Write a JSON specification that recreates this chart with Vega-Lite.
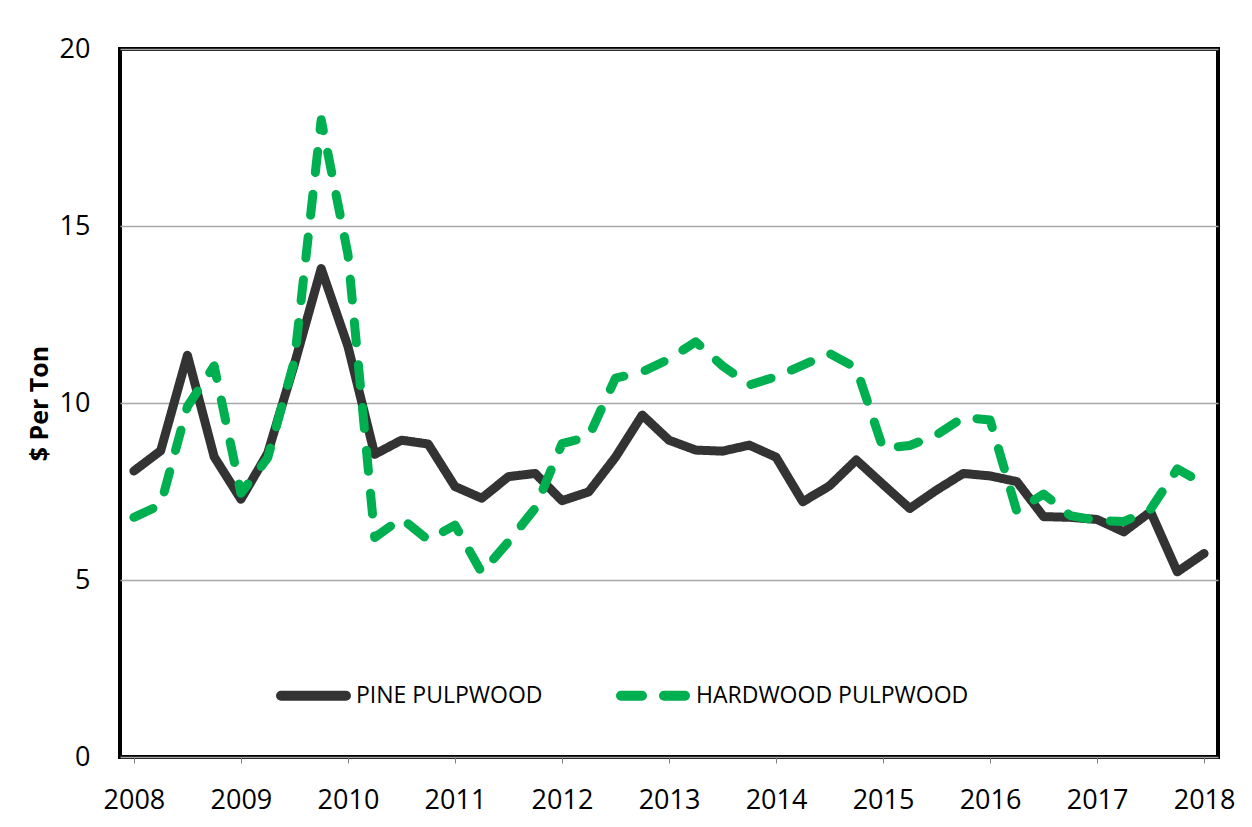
{
  "$schema": "https://vega.github.io/schema/vega-lite/v6.json",
  "width": 1098,
  "height": 708,
  "autosize": "none",
  "padding": {"left": 120, "top": 49, "right": 34, "bottom": 70},
  "background": "white",
  "config": {"view": {"stroke": "black", "strokeWidth": 4}, "font": "Open Sans"},
  "data": {"values": [
    {"year": 2008.00, "series": "PINE PULPWOOD", "price": 8.08},
    {"year": 2008.25, "series": "PINE PULPWOOD", "price": 8.65},
    {"year": 2008.50, "series": "PINE PULPWOOD", "price": 11.35},
    {"year": 2008.75, "series": "PINE PULPWOOD", "price": 8.48},
    {"year": 2009.00, "series": "PINE PULPWOOD", "price": 7.28},
    {"year": 2009.25, "series": "PINE PULPWOOD", "price": 8.58},
    {"year": 2009.50, "series": "PINE PULPWOOD", "price": 11.1},
    {"year": 2009.75, "series": "PINE PULPWOOD", "price": 13.8},
    {"year": 2010.00, "series": "PINE PULPWOOD", "price": 11.6},
    {"year": 2010.25, "series": "PINE PULPWOOD", "price": 8.55},
    {"year": 2010.50, "series": "PINE PULPWOOD", "price": 8.95},
    {"year": 2010.75, "series": "PINE PULPWOOD", "price": 8.84},
    {"year": 2011.00, "series": "PINE PULPWOOD", "price": 7.64},
    {"year": 2011.25, "series": "PINE PULPWOOD", "price": 7.31},
    {"year": 2011.50, "series": "PINE PULPWOOD", "price": 7.92},
    {"year": 2011.75, "series": "PINE PULPWOOD", "price": 8.01},
    {"year": 2012.00, "series": "PINE PULPWOOD", "price": 7.24},
    {"year": 2012.25, "series": "PINE PULPWOOD", "price": 7.49},
    {"year": 2012.50, "series": "PINE PULPWOOD", "price": 8.47},
    {"year": 2012.75, "series": "PINE PULPWOOD", "price": 9.66},
    {"year": 2013.00, "series": "PINE PULPWOOD", "price": 8.95},
    {"year": 2013.25, "series": "PINE PULPWOOD", "price": 8.67},
    {"year": 2013.50, "series": "PINE PULPWOOD", "price": 8.64},
    {"year": 2013.75, "series": "PINE PULPWOOD", "price": 8.81},
    {"year": 2014.00, "series": "PINE PULPWOOD", "price": 8.47},
    {"year": 2014.25, "series": "PINE PULPWOOD", "price": 7.21},
    {"year": 2014.50, "series": "PINE PULPWOOD", "price": 7.66},
    {"year": 2014.75, "series": "PINE PULPWOOD", "price": 8.39},
    {"year": 2015.00, "series": "PINE PULPWOOD", "price": 7.70},
    {"year": 2015.25, "series": "PINE PULPWOOD", "price": 7.02},
    {"year": 2015.50, "series": "PINE PULPWOOD", "price": 7.54},
    {"year": 2015.75, "series": "PINE PULPWOOD", "price": 8.01},
    {"year": 2016.00, "series": "PINE PULPWOOD", "price": 7.94},
    {"year": 2016.25, "series": "PINE PULPWOOD", "price": 7.78},
    {"year": 2016.50, "series": "PINE PULPWOOD", "price": 6.79},
    {"year": 2016.75, "series": "PINE PULPWOOD", "price": 6.77},
    {"year": 2017.00, "series": "PINE PULPWOOD", "price": 6.71},
    {"year": 2017.25, "series": "PINE PULPWOOD", "price": 6.36},
    {"year": 2017.50, "series": "PINE PULPWOOD", "price": 6.93},
    {"year": 2017.75, "series": "PINE PULPWOOD", "price": 5.23},
    {"year": 2018.00, "series": "PINE PULPWOOD", "price": 5.75},
    {"year": 2008.00, "series": "HARDWOOD PULPWOOD", "price": 6.77},
    {"year": 2008.25, "series": "HARDWOOD PULPWOOD", "price": 7.12},
    {"year": 2008.50, "series": "HARDWOOD PULPWOOD", "price": 9.9},
    {"year": 2008.75, "series": "HARDWOOD PULPWOOD", "price": 11.05},
    {"year": 2009.00, "series": "HARDWOOD PULPWOOD", "price": 7.45},
    {"year": 2009.25, "series": "HARDWOOD PULPWOOD", "price": 8.45},
    {"year": 2009.50, "series": "HARDWOOD PULPWOOD", "price": 11.2},
    {"year": 2009.75, "series": "HARDWOOD PULPWOOD", "price": 18.0},
    {"year": 2010.00, "series": "HARDWOOD PULPWOOD", "price": 14.2},
    {"year": 2010.25, "series": "HARDWOOD PULPWOOD", "price": 6.2},
    {"year": 2010.50, "series": "HARDWOOD PULPWOOD", "price": 6.74},
    {"year": 2010.75, "series": "HARDWOOD PULPWOOD", "price": 6.13},
    {"year": 2011.00, "series": "HARDWOOD PULPWOOD", "price": 6.55},
    {"year": 2011.25, "series": "HARDWOOD PULPWOOD", "price": 5.21},
    {"year": 2011.50, "series": "HARDWOOD PULPWOOD", "price": 6.08},
    {"year": 2011.75, "series": "HARDWOOD PULPWOOD", "price": 7.03},
    {"year": 2012.00, "series": "HARDWOOD PULPWOOD", "price": 8.85},
    {"year": 2012.25, "series": "HARDWOOD PULPWOOD", "price": 9.05},
    {"year": 2012.50, "series": "HARDWOOD PULPWOOD", "price": 10.70},
    {"year": 2012.75, "series": "HARDWOOD PULPWOOD", "price": 10.88},
    {"year": 2013.00, "series": "HARDWOOD PULPWOOD", "price": 11.24},
    {"year": 2013.25, "series": "HARDWOOD PULPWOOD", "price": 11.73},
    {"year": 2013.50, "series": "HARDWOOD PULPWOOD", "price": 11.05},
    {"year": 2013.75, "series": "HARDWOOD PULPWOOD", "price": 10.51},
    {"year": 2014.00, "series": "HARDWOOD PULPWOOD", "price": 10.74},
    {"year": 2014.25, "series": "HARDWOOD PULPWOOD", "price": 11.07},
    {"year": 2014.50, "series": "HARDWOOD PULPWOOD", "price": 11.40},
    {"year": 2014.75, "series": "HARDWOOD PULPWOOD", "price": 10.99},
    {"year": 2015.00, "series": "HARDWOOD PULPWOOD", "price": 8.72},
    {"year": 2015.25, "series": "HARDWOOD PULPWOOD", "price": 8.80},
    {"year": 2015.50, "series": "HARDWOOD PULPWOOD", "price": 9.10},
    {"year": 2015.75, "series": "HARDWOOD PULPWOOD", "price": 9.59},
    {"year": 2016.00, "series": "HARDWOOD PULPWOOD", "price": 9.52},
    {"year": 2016.25, "series": "HARDWOOD PULPWOOD", "price": 6.94},
    {"year": 2016.50, "series": "HARDWOOD PULPWOOD", "price": 7.43},
    {"year": 2016.75, "series": "HARDWOOD PULPWOOD", "price": 6.82},
    {"year": 2017.00, "series": "HARDWOOD PULPWOOD", "price": 6.68},
    {"year": 2017.25, "series": "HARDWOOD PULPWOOD", "price": 6.65},
    {"year": 2017.50, "series": "HARDWOOD PULPWOOD", "price": 7.00},
    {"year": 2017.75, "series": "HARDWOOD PULPWOOD", "price": 8.14},
    {"year": 2018.00, "series": "HARDWOOD PULPWOOD", "price": 7.71}
  ]},
  "mark": {"type": "line", "strokeWidth": 9, "strokeCap": "round", "strokeJoin": "round"},
  "encoding": {
    "x": {
      "field": "year", "type": "quantitative",
      "scale": {"domain": [2007.87, 2018.13], "nice": false, "zero": false},
      "axis": {
        "title": null,
        "values": [2008, 2008.25, 2008.5, 2008.75, 2009, 2009.25, 2009.5, 2009.75, 2010, 2010.25, 2010.5, 2010.75, 2011, 2011.25, 2011.5, 2011.75, 2012, 2012.25, 2012.5, 2012.75, 2013, 2013.25, 2013.5, 2013.75, 2014, 2014.25, 2014.5, 2014.75, 2015, 2015.25, 2015.5, 2015.75, 2016, 2016.25, 2016.5, 2016.75, 2017, 2017.25, 2017.5, 2017.75, 2018],
        "format": "d",
        "labelExpr": "datum.value % 1 === 0 ? datum.label : ''",
        "grid": false, "domain": false,
        "tickSize": 6, "tickColor": "#7f7f7f", "tickWidth": 1,
        "labelFontSize": 27, "labelColor": "black", "labelPadding": 24,
        "labelOverlap": false, "labelFlush": false, "labelBound": false
      }
    },
    "y": {
      "field": "price", "type": "quantitative",
      "scale": {"domain": [0, 20], "nice": false},
      "axis": {
        "title": "$ Per Ton",
        "values": [0, 5, 10, 15, 20],
        "grid": true, "gridColor": "#a6a6a6", "gridWidth": 1.5,
        "ticks": false, "domain": false,
        "labelFontSize": 27, "labelPadding": 30, "labelColor": "black",
        "titleFontSize": 25, "titleFontWeight": "bold", "titleColor": "black",
        "titleX": -73, "titleY": 354, "titleAngle": -90,
        "titleBaseline": "alphabetic", "titleAlign": "center"
      }
    },
    "color": {
      "field": "series", "type": "nominal",
      "scale": {"domain": ["PINE PULPWOOD", "HARDWOOD PULPWOOD"], "range": ["#333333", "#00b050"]},
      "legend": {
        "orient": "none", "legendX": 156, "legendY": 609, "direction": "horizontal",
        "title": null, "symbolType": "stroke", "symbolSize": 4225, "symbolStrokeWidth": 10,
        "labelFontSize": 23, "labelColor": "black", "labelOffset": 5, "labelLimit": 0,
        "columnPadding": 58, "padding": 0,
        "encode": {"symbols": {"update": {"strokeCap": {"value": "round"}}}}
      }
    },
    "strokeDash": {
      "field": "series", "type": "nominal",
      "scale": {"domain": ["PINE PULPWOOD", "HARDWOOD PULPWOOD"], "range": [[1, 0], [21, 22]]}
    }
  }
}
